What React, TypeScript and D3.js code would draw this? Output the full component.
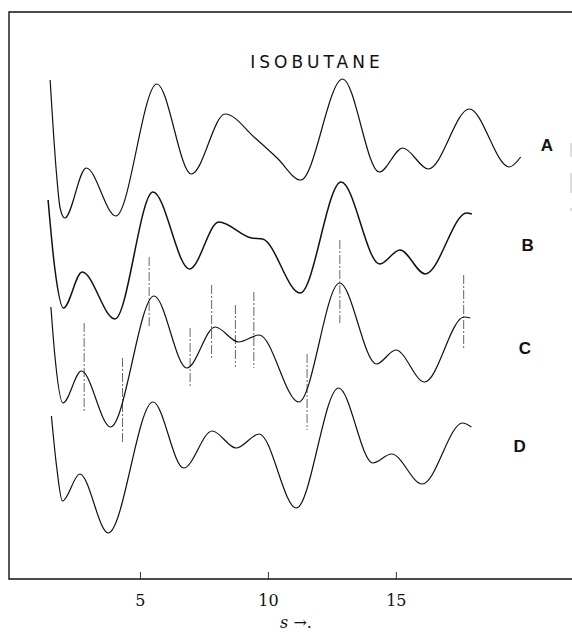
import { useEffect, useRef } from 'react';
import * as d3 from 'd3';

const W = 572, H = 632;
const X0 = 12, X1 = 575, Y0 = 579, Y1 = 12;

// scattering curves: [s, intensity] (arbitrary units, curves stacked)
const curveA: [number, number][] = [
  [1.49, 49.9], [1.74, 40.5], [1.88, 37.1], [2.06, 36.1], [2.9, 41.1], [4.06, 36.3],
  [5.66, 49.5], [7.01, 40.5], [8.33, 46.5], [9.5, 44.1], [10.36, 42.1], [11.28, 39.9],
  [12.92, 50.0], [14.35, 40.7], [15.27, 43.1], [16.27, 41.0], [17.87, 47.0], [19.43, 41.2],
  [19.88, 42.2],
];
const curveB: [number, number][] = [
  [1.41, 37.9], [1.67, 31.1], [2.01, 27.1], [2.74, 30.7], [4.02, 26.0], [5.51, 38.7],
  [6.94, 31.0], [8.08, 35.7], [9.36, 34.1], [9.79, 34.0], [11.26, 28.6], [12.86, 39.7],
  [14.37, 31.5], [15.16, 32.9], [16.15, 30.5], [17.77, 36.6], [17.97, 36.5],
];
const curveC: [number, number][] = [
  [1.52, 27.2], [1.68, 22.2], [1.99, 17.6], [2.71, 20.8], [3.85, 15.2], [5.55, 28.3],
  [6.83, 21.1], [7.94, 25.2], [8.85, 23.7], [9.66, 24.4], [11.21, 17.7], [12.8, 29.6],
  [14.24, 21.5], [15.0, 22.9], [16.12, 19.7], [17.67, 26.2], [17.91, 26.1],
];
const curveD: [number, number][] = [
  [1.54, 16.3], [1.75, 11.1], [1.97, 7.8], [2.65, 10.5], [3.76, 4.6], [5.51, 17.7],
  [6.71, 11.1], [7.82, 14.8], [8.76, 13.1], [9.66, 14.5], [11.11, 7.1], [12.76, 19.1],
  [14.1, 11.6], [14.83, 12.5], [16.03, 9.5], [17.61, 15.6], [17.95, 15.2],
];
const curves = [curveA, curveB, curveC, curveD];
const curveNames = ['A', 'B', 'C', 'D'];
const labelS = [20.9, 20.15, 20.04, 19.84];
const labelI = [43.4, 33.4, 23.1, 13.3];

// calculated peak positions drawn over curve C
const markerS = [2.82, 4.32, 5.36, 6.96, 7.8, 8.73, 9.45, 11.53, 12.81, 17.65];
const markerTop = [25.6, 22.1, 32.2, 25.1, 29.4, 27.4, 28.7, 22.5, 33.9, 30.4];
const markerBottom = [16.6, 13.7, 25.1, 19.2, 21.9, 21.2, 21.1, 14.9, 25.6, 22.9];

const xTicks = [5, 10, 15];

export default function App() {
  const svgRef = useRef<SVGSVGElement>(null);

  useEffect(() => {
    const svg = d3.select(svgRef.current);
    svg.selectAll('*').remove();

    const x = d3.scaleLinear().domain([0, 22]).range([X0, X1]);
    const y = d3.scaleLinear().domain([0, 56.7]).range([Y0, Y1]);

    // frame
    svg.append('path')
      .attr('d', `M${W},${Y1}H9V${Y0}H${W}`)
      .attr('fill', 'none')
      .attr('stroke', '#111')
      .attr('stroke-width', 1.4);

    // scanner marks on right edge
    [[143, 157], [173, 193], [208, 211]].forEach(([a, b]) => {
      svg.append('line')
        .attr('x1', 571).attr('x2', 571).attr('y1', a).attr('y2', b)
        .attr('stroke', '#bbb').attr('stroke-width', 1);
    });

    // x axis
    svg.append('g')
      .attr('transform', `translate(0,${Y0})`)
      .call(
        d3.axisBottom(x)
          .tickValues(xTicks)
          .tickSizeInner(-7)
          .tickSizeOuter(0)
          .tickPadding(16)
          .tickFormat(d3.format('d')),
      )
      .call((g) => {
        g.select('.domain').remove();
        g.selectAll('line').attr('stroke', '#333');
        g.selectAll('text')
          .attr('font-family', '"DejaVu Serif", serif')
          .attr('font-size', 16)
          .attr('fill', '#111');
      });

    svg.append('text')
      .attr('x', 296)
      .attr('y', 628)
      .attr('text-anchor', 'middle')
      .attr('font-family', '"DejaVu Serif", serif')
      .attr('font-size', 16)
      .attr('fill', '#111')
      .html('<tspan font-style="italic">s</tspan> →.');

    // title
    svg.append('text')
      .attr('x', 317)
      .attr('y', 68)
      .attr('text-anchor', 'middle')
      .attr('font-family', '"DejaVu Sans", sans-serif')
      .attr('font-size', 17)
      .attr('letter-spacing', 4)
      .attr('fill', '#111')
      .text('ISOBUTANE');

    // peak markers
    svg.append('g')
      .selectAll('line')
      .data(markerS)
      .join('line')
      .attr('x1', (d) => x(d))
      .attr('x2', (d) => x(d))
      .attr('y1', (_, i) => y(markerTop[i]))
      .attr('y2', (_, i) => y(markerBottom[i]))
      .attr('stroke', '#666')
      .attr('stroke-width', 1)
      .attr('stroke-dasharray', '9,2,2,2');

    const line = d3.line<[number, number]>()
      .x((d) => x(d[0]))
      .y((d) => y(d[1]))
      .curve(d3.curveMonotoneX);

    svg.append('g')
      .selectAll('path')
      .data(curves)
      .join('path')
      .attr('d', (d) => line(d))
      .attr('fill', 'none')
      .attr('stroke', '#111')
      .attr('stroke-width', (_, i) => (i === 1 ? 1.5 : 1.2));

    svg.append('g')
      .selectAll('text')
      .data(curveNames)
      .join('text')
      .attr('x', (_, i) => x(labelS[i]))
      .attr('y', (_, i) => y(labelI[i]))
      .attr('dy', '0.35em')
      .attr('text-anchor', 'middle')
      .attr('font-family', '"Liberation Sans", sans-serif')
      .attr('font-weight', 600)
      .attr('font-size', 17)
      .attr('fill', '#111')
      .text((d) => d);
  }, []);

  return (
    <svg
      ref={svgRef}
      width={W}
      height={H}
      style={{ position: 'absolute', left: 0, top: 0, background: '#fff' }}
    />
  );
}
